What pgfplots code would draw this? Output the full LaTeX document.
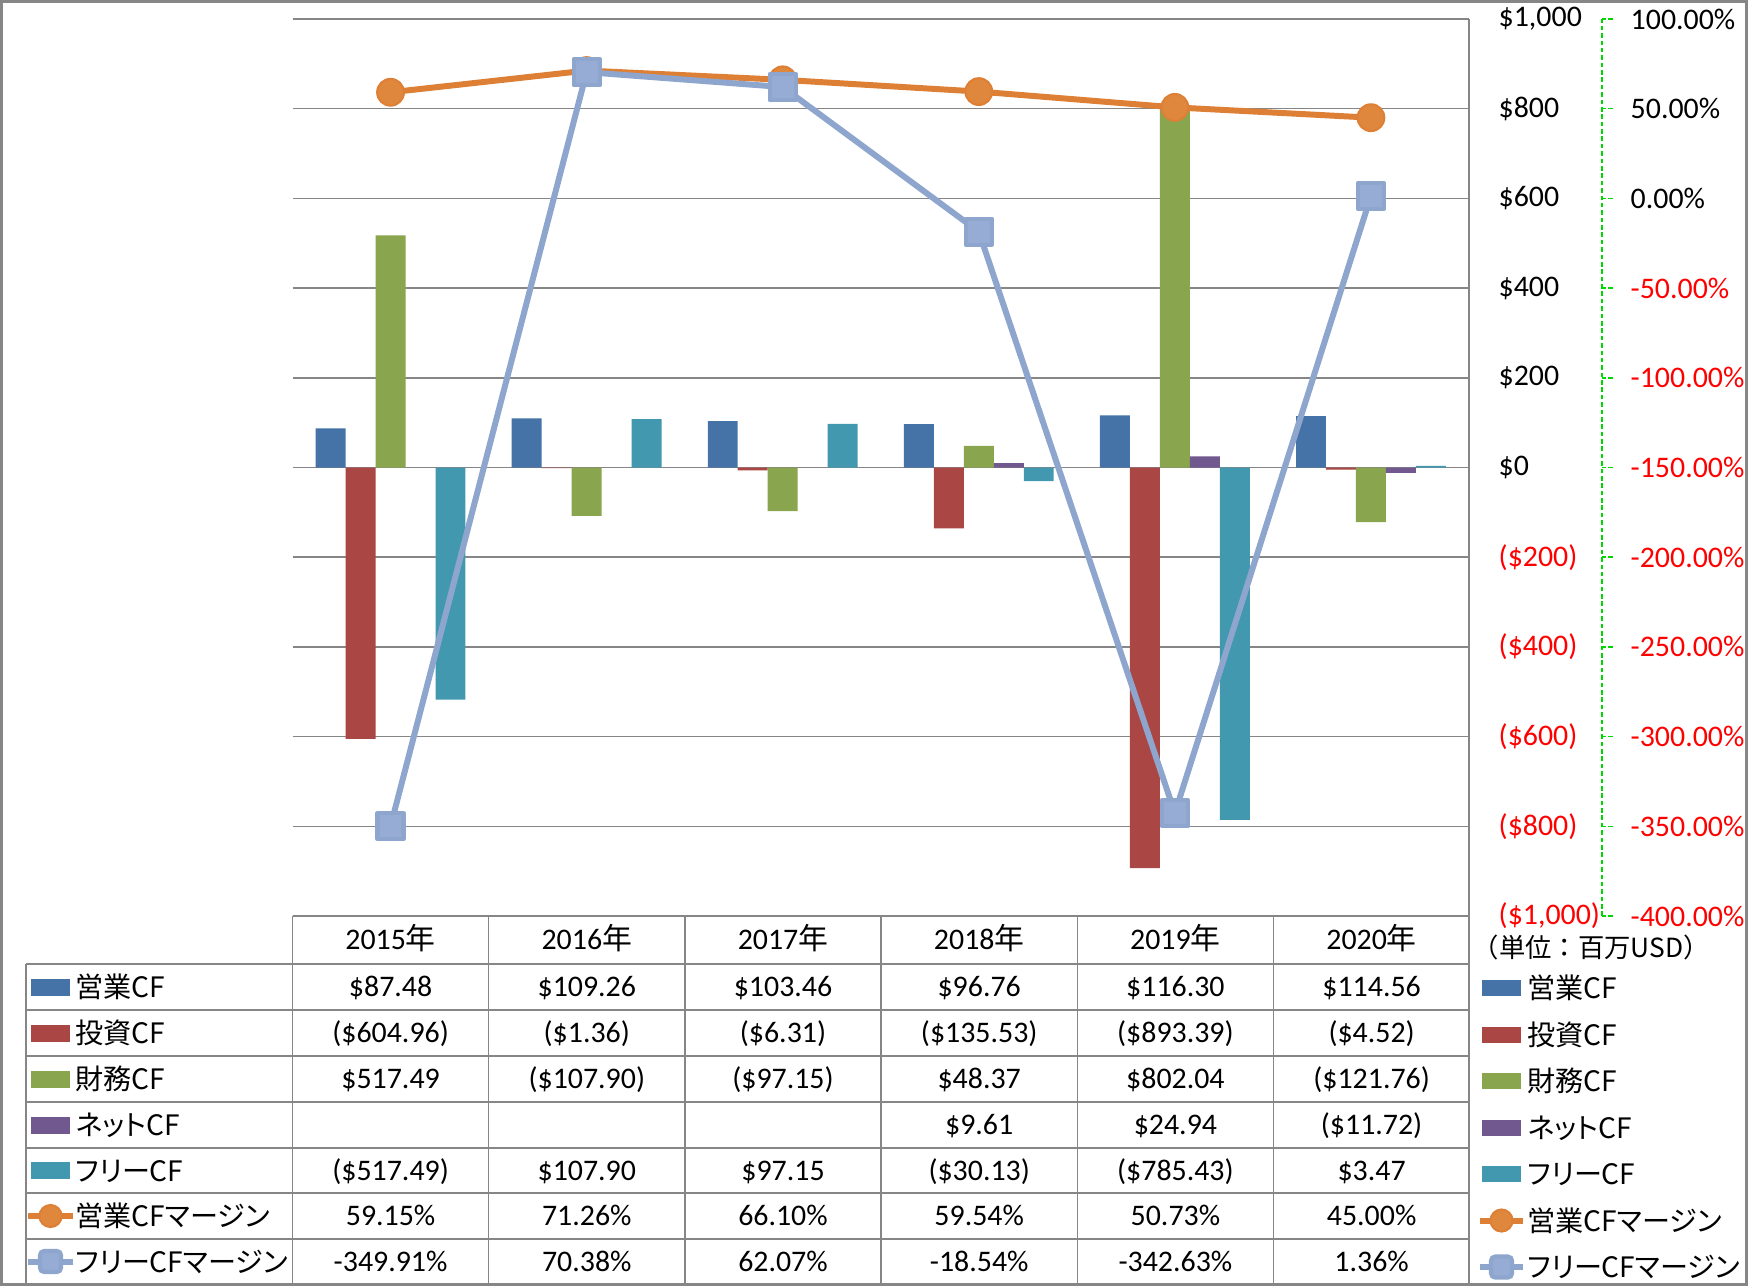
\documentclass[border=0pt]{standalone}
\usepackage{fontspec}
\setmainfont{Carlito}
\newfontfamily\jp[RawFeature=+palt]{Noto Sans CJK JP}
\newfontfamily\jpf{Noto Sans CJK JP}
\usepackage{pgfplots}
\pgfplotsset{compat=1.18}
\definecolor{cBlue}{RGB}{69,114,167}
\definecolor{cRed}{RGB}{170,70,67}
\definecolor{cGreen}{RGB}{137,165,78}
\definecolor{cPurple}{RGB}{113,88,143}
\definecolor{cTeal}{RGB}{65,152,175}
\definecolor{cOrange}{RGB}{221,128,54}
\definecolor{cOrangeF}{RGB}{224,135,62}
\definecolor{cLBlue}{RGB}{142,166,205}
\definecolor{cLBlueF}{RGB}{150,172,212}
\definecolor{cGrid}{RGB}{134,134,134}
\definecolor{cAxisG}{RGB}{0,215,0}
\newcommand\fnum{\fontsize{8.5}{10}\selectfont}
\newcommand\fjp{\jp\fontsize{8}{10}\selectfont}
\newcommand\trow[7]{%
 \node[anchor=base,font=\fnum,inner sep=0pt] at (390.6,#1) {#2};
 \node[anchor=base,font=\fnum,inner sep=0pt] at (586.8,#1) {#3};
 \node[anchor=base,font=\fnum,inner sep=0pt] at (783.0,#1) {#4};
 \node[anchor=base,font=\fnum,inner sep=0pt] at (979.2,#1) {#5};
 \node[anchor=base,font=\fnum,inner sep=0pt] at (1175.4,#1) {#6};
 \node[anchor=base,font=\fnum,inner sep=0pt] at (1371.6,#1) {#7};
}
\begin{document}
\begin{tikzpicture}[x=0.1mm,y=-0.1mm]
\useasboundingbox (0,0) rectangle (1748,1286);
\fill[white] (0,0) rectangle (1748,1286);

% ---------- bars ----------
\begin{axis}[at={(29.25mm,-1.9mm)}, anchor=north west, scale only axis,
 width=117.65mm, height=89.7mm,
 xmin=-0.5, xmax=5.5, ymin=-1000, ymax=1000,
 axis x line=none, axis y line*=right,
 y axis line style={draw=none},
 ytick={-1000,-800,-600,-400,-200,0,200,400,600,800,1000},
 ymajorgrids, grid style={cGrid, line width=0.15mm},
 major tick length=0pt,
 yticklabel style={anchor=west, inner sep=0pt, xshift=2.9mm, font=\fnum},
 yticklabels={\textcolor{red}{(\$1,000)},\textcolor{red}{(\$800)},\textcolor{red}{(\$600)},\textcolor{red}{(\$400)},\textcolor{red}{(\$200)},\$0,\$200,\$400,\$600,\$800,{\$1,000}},
 ybar=0pt, bar width=0.1529,
]
\addplot[fill=cBlue, draw=none, bar shift=-0.3058] coordinates {(0,87.48) (1,109.26) (2,103.46) (3,96.76) (4,116.30) (5,114.56)};
\addplot[fill=cRed, draw=none, bar shift=-0.1529] coordinates {(0,-604.96) (1,-1.36) (2,-6.31) (3,-135.53) (4,-893.39) (5,-4.52)};
\addplot[fill=cGreen, draw=none, bar shift=0] coordinates {(0,517.49) (1,-107.90) (2,-97.15) (3,48.37) (4,802.04) (5,-121.76)};
\addplot[fill=cPurple, draw=none, bar shift=0.1529] coordinates {(3,9.61) (4,24.94) (5,-11.72)};
\addplot[fill=cTeal, draw=none, bar shift=0.3058] coordinates {(0,-517.49) (1,107.90) (2,97.15) (3,-30.13) (4,-785.43) (5,3.47)};
\end{axis}

% ---------- lines ----------
\begin{axis}[at={(29.25mm,-1.9mm)}, anchor=north west, scale only axis,
 width=117.65mm, height=89.7mm, hide axis, clip=false,
 xmin=-0.5, xmax=5.5, ymin=-400, ymax=100]
\addplot[cOrange, line width=1.7pt, line join=round, mark=*, mark size=3.8pt,
 mark options={fill=cOrangeF, draw=cOrange, line width=0.6pt}]
 coordinates {(0,59.15) (1,71.26) (2,66.10) (3,59.54) (4,50.73) (5,45.00)};
\addplot[cLBlue, line width=1.7pt, line join=round, mark=square*, mark size=3.7pt,
 mark options={fill=cLBlueF, draw=cLBlue, line width=1.2pt, rounded corners=1.2pt}]
 coordinates {(0,-349.91) (1,70.38) (2,62.07) (3,-18.54) (4,-342.63) (5,1.36)};
\end{axis}

% ---------- secondary axis ----------
\begin{axis}[at={(160.2mm,-1.9mm)}, anchor=north east, scale only axis,
 width=1mm, height=89.7mm, xmin=0, xmax=1, ymin=-400, ymax=100,
 axis x line=none, axis y line*=right,
 y axis line style={cAxisG, dash pattern=on 1.3pt off 0.8pt, line width=0.45pt},
 ytick={-400,-350,-300,-250,-200,-150,-100,-50,0,50,100},
 major tick length=1.1mm, tick align=outside,
 ytick style={cAxisG, dash pattern=on 1.3pt off 0.8pt, line width=0.45pt},
 yticklabel style={anchor=west, inner sep=0pt, xshift=1.7mm, font=\fnum},
 yticklabels={\textcolor{red}{-400.00\%},\textcolor{red}{-350.00\%},\textcolor{red}{-300.00\%},\textcolor{red}{-250.00\%},\textcolor{red}{-200.00\%},\textcolor{red}{-150.00\%},\textcolor{red}{-100.00\%},\textcolor{red}{-50.00\%},0.00\%,50.00\%,100.00\%},
]
\addplot[draw=none] coordinates {(0,0)};
\end{axis}

% ---------- table lines ----------
\begin{scope}[cGrid, line width=0.15mm]
\draw (292.5,916) -- (1469,916);
\foreach \yy in {964,1010,1056,1102,1148,1193,1239,1284} \draw (26,\yy) -- (1469,\yy);
\draw (26,964) -- (26,1284);
\foreach \xx in {292.5,488.7,684.9,881.1,1077.3,1273.5} \draw (\xx,916) -- (\xx,1284);
\draw (1469,19) -- (1469,1284);
\end{scope}

% ---------- table text ----------
\trow{949.5}{2015{\jpf 年}}{2016{\jpf 年}}{2017{\jpf 年}}{2018{\jpf 年}}{2019{\jpf 年}}{2020{\jpf 年}}
\trow{996.5}{\$87.48}{\$109.26}{\$103.46}{\$96.76}{\$116.30}{\$114.56}
\trow{1042.5}{(\$604.96)}{(\$1.36)}{(\$6.31)}{(\$135.53)}{(\$893.39)}{(\$4.52)}
\trow{1088.5}{\$517.49}{(\$107.90)}{(\$97.15)}{\$48.37}{\$802.04}{(\$121.76)}
\trow{1134.5}{}{}{}{\$9.61}{\$24.94}{(\$11.72)}
\trow{1180}{(\$517.49)}{\$107.90}{\$97.15}{(\$30.13)}{(\$785.43)}{\$3.47}
\trow{1225.5}{59.15\%}{71.26\%}{66.10\%}{59.54\%}{50.73\%}{45.00\%}
\trow{1271}{-349.91\%}{70.38\%}{62.07\%}{-18.54\%}{-342.63\%}{1.36\%}

% ---------- legend in table ----------
\foreach \c/\yc/\lab in {cBlue/987/営業CF, cRed/1033/投資CF, cGreen/1079/財務CF, cPurple/1125/ネットCF, cTeal/1170.5/フリーCF}{
  \fill[\c] (31,\yc-8.5) rectangle (70,\yc+8.5);
  \node[anchor=base west, inner sep=0pt, font=\fjp] at (75,\yc+10.5) {\lab};
}
\draw[cOrange, line width=1.7pt] (28,1216) -- (73,1216);
\filldraw[fill=cOrangeF, draw=cOrange, line width=0.6pt] (50.5,1216) circle (11);
\node[anchor=base west, inner sep=0pt, font=\fjp] at (75,1226.5) {営業CFマージン};
\draw[cLBlue, line width=1.7pt] (28,1261.5) -- (73,1261.5);
\filldraw[fill=cLBlueF, draw=cLBlue, line width=1.2pt, rounded corners=1.2pt] (40,1251) rectangle (61,1272);
\node[anchor=base west, inner sep=0pt, font=\fjp] at (75,1272) {フリーCFマージン};

% ---------- right legend ----------
\node[anchor=base west, inner sep=0pt, font=\jpf\fontsize{7.5}{8}\selectfont] at (1472,957) {（単位：百万USD）};
\foreach \c/\yc/\lab in {cBlue/988/営業CF, cRed/1034.5/投資CF, cGreen/1081/財務CF, cPurple/1127.5/ネットCF, cTeal/1174/フリーCF}{
  \fill[\c] (1482,\yc-8) rectangle (1521,\yc+8);
  \node[anchor=base west, inner sep=0pt, font=\fjp] at (1527,\yc+10.5) {\lab};
}
\draw[cOrange, line width=1.7pt] (1480,1220.5) -- (1523,1220.5);
\filldraw[fill=cOrangeF, draw=cOrange, line width=0.6pt] (1501.5,1220.5) circle (11);
\node[anchor=base west, inner sep=0pt, font=\fjp] at (1527,1231) {営業CFマージン};
\draw[cLBlue, line width=1.7pt] (1480,1267) -- (1523,1267);
\filldraw[fill=cLBlueF, draw=cLBlue, line width=1.2pt, rounded corners=1.2pt] (1491,1256.5) rectangle (1512,1277.5);
\node[anchor=base west, inner sep=0pt, font=\fjp] at (1527,1277.5) {フリーCFマージン};

% ---------- frame ----------
\draw[cGrid, line width=0.28mm] (1.4,1.4) rectangle (1746.6,1284.6);
\end{tikzpicture}
\end{document}
